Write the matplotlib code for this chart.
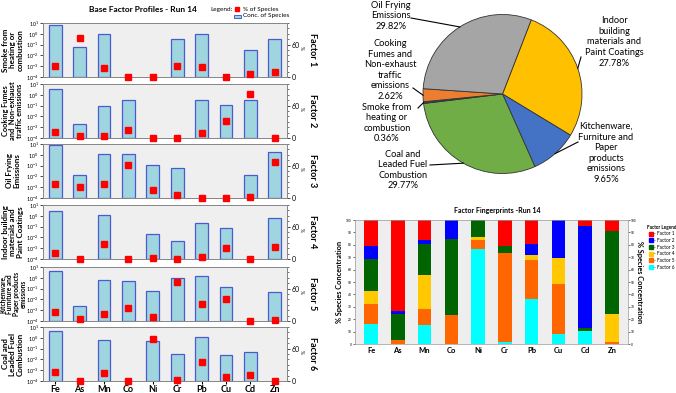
import numpy as np
import matplotlib
matplotlib.use("Agg")
import matplotlib.pyplot as plt
from matplotlib.ticker import NullLocator, MultipleLocator, FixedLocator
from matplotlib.lines import Line2D

plt.rcParams['font.family'] = ['Lato', 'DejaVu Sans']

W, H = 676, 393

# ---- data ----
elements = ['Fe', 'As', 'Mn', 'Co', 'Ni', 'Cr', 'Pb', 'Cu', 'Cd', 'Zn']
row_labels = ['Smoke from\nheating or\ncombustion',
              'Cooking Fumes\nand  Non-exhaust\ntraffic emissions',
              'Oil Frying\nEmissions',
              'Indoor building\nmaterials and\nPaint Coatings',
              'Kitchenware,\nFurniture and\nPaper products\nemissions',
              'Coal and\nLeaded Fuel\nCombustion']
factor_labels = ['Factor 1', 'Factor 2', 'Factor 3', 'Factor 4', 'Factor 5', 'Factor 6']

# concentration of species (log scale), 0 = no bar
conc_f1 = [7.0, 0.056, 0.93, 0, 0, 0.32, 0.93, 0, 0.03, 0.32]
conc_f2 = [3.4, 0.002, 0.10, 0.35, 0, 0, 0.36, 0.12, 0.36, 0]
conc_f3 = [7.5, 0.014, 1.1, 1.15, 0.12, 0.063, 0, 0, 0.014, 1.7]
conc_f4 = [2.8, 0, 1.1, 0, 0.02, 0.0046, 0.22, 0.07, 0, 0.59]
conc_f5 = [4.5, 0.0024, 0.6, 0.52, 0.06, 0.93, 1.33, 0.145, 0, 0.046]
conc_f6 = [4.0, 0, 0.68, 0, 0.55, 0.033, 1.3, 0.028, 0.047, 0]

# % of species
pct_f1 = [21, 73, 16, 0, 0, 21, 19, 0, 5, 9]
pct_f2 = [10.5, 3, 3, 15, 0, 0, 9, 31, 82, 0]
pct_f3 = [25.5, 21, 25.5, 61.5, 14, 5.5, 0, 0, 2.5, 67]
pct_f4 = [10.5, 0, 27.5, 0, 2, 0, 4.5, 21, 0, 22.5]
pct_f5 = [16, 3, 12.5, 23.5, 7, 71.5, 31.5, 40, 0, 1.5]
pct_f6 = [16.5, 0, 15.5, 0, 77, 2, 36, 8, 10.5, 0]

conc_all = [conc_f1, conc_f2, conc_f3, conc_f4, conc_f5, conc_f6]
pct_all = [pct_f1, pct_f2, pct_f3, pct_f4, pct_f5, pct_f6]

# pie contributions (clockwise order)
pie_labels = ['Indoor\nbuilding\nmaterials and\nPaint Coatings\n27.78%',
              'Kitchenware,\nFurniture and\nPaper\nproducts\nemissions\n9.65%',
              'Coal and\nLeaded Fuel\nCombustion\n29.77%',
              'Smoke from\nheating or\ncombustion\n0.36%',
              'Cooking\nFumes and\nNon-exhaust\ntraffic\nemissions\n2.62%',
              'Oil Frying\nEmissions\n29.82%']
pie_values = [27.78, 9.65, 29.77, 0.36, 2.62, 29.82]
pie_colors = ['#ffc000', '#4472c4', '#70ad47', '#264478', '#ed7d31', '#a5a5a5']

factor_colors = ['#ff0000', '#0000ff', '#006400', '#ffc800', '#ff6600', '#00ffff']
factor_legend = ['- Factor 1', '- Factor 2', '- Factor 3', '- Factor 4', '- Factor 5', '- Factor 6']


def px(x0, y0, w, h):
    return [x0 / W, 1 - (y0 + h) / H, w / W, h / H]


fig = plt.figure(figsize=(W / 100, H / 100), dpi=100)

# ---- pie (full-figure pixel axes) ----
axp = fig.add_axes([0, 0, 1, 1])
cx, cy, r = 502.5, H - 94, 79.5
wedges, _ = axp.pie(pie_values, colors=pie_colors, startangle=68.8, counterclock=False,
                    center=(cx, cy), radius=r, frame=True,
                    wedgeprops=dict(edgecolor='#333333', linewidth=0.6))
axp.set_xlim(0, W)
axp.set_ylim(0, H)
axp.axis('off')

# text centres and leader-line starts (pixel, from top)
txt_pos = [(614, 42), (606, 153), (403, 170), (387, 123), (390, 70), (391, 16)]
line_start = [(581, 57), (578, 142), (430, 165), (418, 108), (413, 88), (411, 18)]
for wd, lab, (tx, ty), (lx, ly) in zip(wedges, pie_labels, txt_pos, line_start):
    ang = np.deg2rad((wd.theta1 + wd.theta2) / 2)
    ex, ey = cx + r * np.cos(ang), cy + r * np.sin(ang)
    axp.text(tx, H - ty, lab, ha='center', va='center', fontsize=6.7, linespacing=1.22)
    axp.plot([lx, ex], [H - ly, ey], color='black', lw=0.8)

# ---- base factor profiles ----
tops = [23, 84, 144, 205, 267, 327]
x = np.arange(len(elements))
for i, (conc, pct) in enumerate(zip(conc_all, pct_all)):
    ax = fig.add_axes(px(43, tops[i], 244, 54))
    ax.set_facecolor('#efefef')
    ax.set_yscale('log')
    idx = [j for j, v in enumerate(conc) if v > 0]
    ax.bar(x[idx], [conc[j] - 1e-4 for j in idx], bottom=1e-4, width=0.53,
           color='#9fd5df', edgecolor='#4a5bd0', linewidth=0.9)
    ax.set_ylim(1e-4, 10)
    ax.set_xlim(-0.5, 9.5)
    ax.yaxis.set_major_locator(FixedLocator([1e-4, 1e-3, 1e-2, 1e-1, 1, 10]))
    ax.yaxis.set_minor_locator(NullLocator())
    ax.tick_params(axis='y', labelsize=3.9, length=2, width=0.5, pad=1)
    ax.set_xticks(x)
    if i == 5:
        ax.set_xticklabels(elements, fontsize=6.5, fontweight='bold')
        ax.tick_params(axis='x', length=2, pad=1)
    else:
        ax.set_xticklabels([])
        ax.tick_params(axis='x', length=0)
    for s in ax.spines.values():
        s.set_color('#888888')
        s.set_linewidth(0.7)

    ax2 = ax.twinx()
    ax2.set_ylim(0, 100)
    ax2.plot(x, pct, 's', color='#ff0000', ms=4.3, clip_on=False, zorder=5)
    ax2.set_yticks([0, 60])
    ax2.yaxis.set_minor_locator(MultipleLocator(10))
    ax2.tick_params(axis='y', labelsize=5, length=2.5, width=0.5, pad=1)
    ax2.tick_params(axis='y', which='minor', length=1.5, width=0.4)
    for s in ax2.spines.values():
        s.set_color('#888888')
        s.set_linewidth(0.7)

    yc = tops[i] + 27
    fs = {1: 5.3, 4: 4.7}.get(i, 5.8)
    fig.text(13 / W, 1 - yc / H, row_labels[i], rotation=90, ha='center', va='center',
             fontsize=fs, fontweight='bold', linespacing=1.0)
    fig.text(301 / W, 1 - (yc - 2) / H, '%', rotation=-90, ha='center', va='center', fontsize=3.5)
    fig.text(312 / W, 1 - yc / H, factor_labels[i], rotation=-90, ha='center', va='center',
             fontsize=6.5, fontweight='bold')

fig.text(143 / W, 1 - 10 / H, 'Base Factor Profiles - Run 14', ha='center', va='center',
         fontsize=6, fontweight='bold')
fig.text(210 / W, 1 - 10 / H, 'Legend:', ha='left', va='center', fontsize=4.6)
fig.add_artist(Line2D([237 / W], [1 - 9 / H], marker='s', color='#ff0000', ms=2.8, transform=fig.transFigure))
fig.text(243 / W, 1 - 9 / H, '% of Species', ha='left', va='center', fontsize=4.6)
fig.add_artist(plt.Rectangle((234 / W, 1 - 18 / H), 7 / W, 3.5 / H, transform=fig.transFigure,
                             facecolor='#9fd5df', edgecolor='#4a5bd0', lw=0.7))
fig.text(243 / W, 1 - 16 / H, 'Conc. of Species', ha='left', va='center', fontsize=4.6)

# ---- factor fingerprints ----
axf = fig.add_axes(px(355, 220, 273, 124))
axf.set_facecolor('#eeeeee')
bottom = np.zeros(len(elements))
for k in range(5, -1, -1):
    vals = np.array(pct_all[k])
    axf.bar(x, vals, bottom=bottom, width=0.5, color=factor_colors[k], label=factor_legend[k])
    bottom += vals
axf.set_xlim(-0.6, 9.6)
axf.set_ylim(0, 100)
axf.set_xticks(x)
axf.set_xticklabels(elements, fontsize=5.5, fontweight='bold')
axf.yaxis.set_major_locator(MultipleLocator(10))
axf.tick_params(axis='y', labelsize=2.3, length=1.5, width=0.4, pad=0.8, right=True, labelright=True)
axf.tick_params(axis='x', length=0, pad=2)
axf.set_ylabel('% Species Concentration', fontsize=5.3, fontweight='bold', labelpad=2)
for s in axf.spines.values():
    s.set_color('#999999')
    s.set_linewidth(0.5)
fig.text(640 / W, 1 - 282 / H, '% Species Concentration', rotation=-90, ha='center', va='center',
         fontsize=5.3, fontweight='bold')
fig.text(497 / W, 1 - 211 / H, 'Factor Fingerprints -Run 14', ha='center', va='center',
         fontsize=5, fontweight='bold')
handles = [plt.Line2D([], [], marker='s', ls='', color=c, ms=2.5) for c in factor_colors]
leg = fig.legend(handles, factor_legend, loc='upper left', bbox_to_anchor=(644 / W, 1 - 222 / H),
                 fontsize=3.4, frameon=False, title='Factor Legend', title_fontsize=3.3,
                 handlelength=0.7, handletextpad=0.3, labelspacing=0.35, borderpad=0.1)
leg.get_title().set_fontweight('bold')

fig.savefig('out.png', dpi=100)
